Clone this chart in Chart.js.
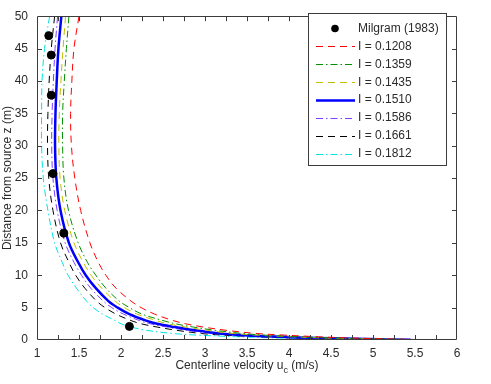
<!DOCTYPE html>
<html lang="en">
<head>
    <meta charset="UTF-8">
    <title>Centerline velocity vs distance from source</title>
    <script src="https://cdn.jsdelivr.net/npm/chart.js"></script>
    <style>
        html, body {
            margin: 0;
            padding: 0;
            background: #fff;
        }
        #wrap {
            width: 491px;
            height: 384px;
        }
    </style>
</head>
<body>
    <div id="wrap"><canvas id="plumeChart"></canvas></div>

    <script>
        // heights above source (m) where each curve was read
        const heights = [50, 45, 40, 35, 30, 25, 20, 15, 12, 10, 8, 6, 5, 4, 3, 2.5, 2, 1.5, 1, 0.75, 0.5, 0.3, 0.15, 0.03];

        // centerline velocity (m/s) for each entrainment coefficient I
        const u1208 = [1.50, 1.44, 1.415, 1.40, 1.41, 1.45, 1.52, 1.63, 1.73, 1.82, 1.94, 2.12, 2.24, 2.40, 2.62, 2.77, 2.98, 3.25, 3.62, 3.95, 4.35, 4.75, 5.25, 5.72];
        const u1359 = [1.38, 1.35, 1.325, 1.305, 1.305, 1.32, 1.375, 1.49, 1.60, 1.70, 1.82, 1.98, 2.10, 2.25, 2.50, 2.65, 2.86, 3.12, 3.45, 3.72, 4.12, 4.55, 5.08, 5.55];
        const u1435 = [1.34, 1.31, 1.285, 1.265, 1.26, 1.275, 1.33, 1.44, 1.55, 1.645, 1.77, 1.93, 2.04, 2.19, 2.42, 2.56, 2.77, 3.02, 3.34, 3.62, 4.03, 4.46, 5.02, 5.50];
        const u1510 = [1.29, 1.255, 1.235, 1.22, 1.215, 1.23, 1.28, 1.38, 1.49, 1.58, 1.70, 1.85, 1.96, 2.10, 2.30, 2.43, 2.64, 2.88, 3.18, 3.45, 3.90, 4.35, 4.95, 5.45];
        const u1586 = [1.245, 1.215, 1.195, 1.18, 1.175, 1.19, 1.24, 1.335, 1.44, 1.53, 1.64, 1.79, 1.89, 2.03, 2.22, 2.35, 2.55, 2.78, 3.08, 3.35, 3.78, 4.22, 4.85, 5.40];
        const u1661 = [1.21, 1.17, 1.145, 1.13, 1.125, 1.14, 1.19, 1.28, 1.38, 1.46, 1.57, 1.71, 1.81, 1.94, 2.12, 2.24, 2.43, 2.66, 2.96, 3.22, 3.65, 4.10, 4.72, 5.35];
        const u1812 = [1.15, 1.09, 1.06, 1.055, 1.055, 1.075, 1.13, 1.21, 1.30, 1.37, 1.47, 1.59, 1.67, 1.78, 1.93, 2.00, 2.12, 2.30, 2.62, 2.92, 3.38, 3.88, 4.50, 5.00];

        // Milgram (1983) measurements
        const milgramU = [1.14, 1.17, 1.17, 1.19, 1.32, 2.10];
        const milgramZ = [47.0, 44.0, 37.8, 25.7, 16.5, 2.1];

        const seriesLabels = ['Milgram (1983)', 'I = 0.1208', 'I = 0.1359', 'I = 0.1435', 'I = 0.1510', 'I = 0.1586', 'I = 0.1661', 'I = 0.1812'];

        const textColor = '#2b2b2b';
        const axisColor = '#3c3c3c';
        const fontFamily = '"Liberation Sans", Arial, Helvetica, sans-serif';

        function curve(label, us, color, width, dash) {
            return {
                label: label,
                data: us.map((u, i) => ({ x: u, y: heights[i] })),
                showLine: true,
                borderColor: color,
                backgroundColor: color,
                borderWidth: width,
                borderDash: dash,
                pointRadius: 0,
                tension: 0.35,
                fill: false
            };
        }

        const dashed = [7, 5];
        const dashDot = [7, 3, 1.5, 3];

        // inward ticks and the closed box round the plot
        const frame = {
            id: 'frame',
            afterDraw(chart) {
                const ctx = chart.ctx;
                const a = chart.chartArea;
                const xs = chart.scales.x, ys = chart.scales.y;
                const len = 5;
                ctx.save();
                ctx.strokeStyle = axisColor;
                ctx.lineWidth = 1;
                ctx.beginPath();
                ctx.rect(Math.round(a.left) + 0.5, Math.round(a.top) + 0.5,
                    Math.round(a.right - a.left) - 1, Math.round(a.bottom - a.top) - 1);
                xs.ticks.forEach(t => {
                    if (t.value <= xs.min || t.value >= xs.max) return;
                    const px = Math.round(xs.getPixelForValue(t.value)) + 0.5;
                    ctx.moveTo(px, a.bottom);
                    ctx.lineTo(px, a.bottom - len);
                    ctx.moveTo(px, a.top);
                    ctx.lineTo(px, a.top + len);
                });
                ys.ticks.forEach(t => {
                    if (t.value <= ys.min || t.value >= ys.max) return;
                    const py = Math.round(ys.getPixelForValue(t.value)) + 0.5;
                    ctx.moveTo(a.left, py);
                    ctx.lineTo(a.left + len, py);
                    ctx.moveTo(a.right, py);
                    ctx.lineTo(a.right - len, py);
                });
                ctx.stroke();

                // x axis title with subscript c
                const cx = (a.left + a.right) / 2;
                const ty = 366;
                ctx.fillStyle = textColor;
                ctx.textBaseline = 'middle';
                ctx.font = '12px ' + fontFamily;
                const p1 = 'Centerline velocity u';
                const p3 = ' (m/s)';
                ctx.font = '12px ' + fontFamily;
                const w1 = ctx.measureText(p1).width;
                const w3 = ctx.measureText(p3).width;
                ctx.font = '9px ' + fontFamily;
                const w2 = ctx.measureText('c').width;
                let x0 = cx - (w1 + w2 + w3) / 2;
                ctx.textAlign = 'left';
                ctx.font = '12px ' + fontFamily;
                ctx.fillText(p1, x0, ty);
                ctx.font = '9px ' + fontFamily;
                ctx.fillText('c', x0 + w1, ty + 5);
                ctx.font = '12px ' + fontFamily;
                ctx.fillText(p3, x0 + w1 + w2, ty);
                ctx.restore();
            }
        };

        // boxed legend in the upper right corner
        const boxLegend = {
            id: 'boxLegend',
            afterDraw(chart) {
                const ctx = chart.ctx;
                const left = 308.5, top = 13.5, right = 446.5, bottom = 165.5;
                ctx.save();
                ctx.fillStyle = '#fff';
                ctx.fillRect(left, top, right - left, bottom - top);
                ctx.strokeStyle = axisColor;
                ctx.lineWidth = 1;
                ctx.setLineDash([]);
                ctx.strokeRect(left, top, right - left, bottom - top);
                chart.data.datasets.forEach((ds, i) => {
                    const y = 28.5 + i * 17.9;
                    if (i === 0) {
                        ctx.fillStyle = '#000';
                        ctx.beginPath();
                        ctx.arc(335, y, 3.8, 0, Math.PI * 2);
                        ctx.fill();
                    } else {
                        ctx.strokeStyle = ds.borderColor;
                        ctx.lineWidth = ds.borderWidth;
                        ctx.setLineDash(ds.borderDash || []);
                        ctx.beginPath();
                        ctx.moveTo(316, Math.round(y) + 0.5);
                        ctx.lineTo(355, Math.round(y) + 0.5);
                        ctx.stroke();
                    }
                    ctx.fillStyle = textColor;
                    ctx.font = '12px ' + fontFamily;
                    ctx.textAlign = 'left';
                    ctx.textBaseline = 'middle';
                    ctx.fillText(seriesLabels[i], 358, y);
                });
                ctx.restore();
            }
        };

        const ctx = document.getElementById('plumeChart').getContext('2d');
        new Chart(ctx, {
            type: 'scatter',
            data: {
                datasets: [
                    {
                        label: seriesLabels[0],
                        data: milgramU.map((u, i) => ({ x: u, y: milgramZ[i] })),
                        backgroundColor: '#000',
                        borderColor: '#000',
                        pointRadius: 4,
                        pointHoverRadius: 4,
                        showLine: false
                    },
                    curve(seriesLabels[1], u1208, '#ff0000', 1, dashed),
                    curve(seriesLabels[2], u1359, '#009000', 1, dashDot),
                    curve(seriesLabels[3], u1435, '#bfbf00', 1, dashed),
                    curve(seriesLabels[4], u1510, '#0000ff', 2.5, []),
                    curve(seriesLabels[5], u1586, '#8040ff', 1, dashDot),
                    curve(seriesLabels[6], u1661, '#000000', 1, dashed),
                    curve(seriesLabels[7], u1812, '#00e5e5', 1, dashDot)
                ]
            },
            options: {
                responsive: true,
                maintainAspectRatio: false,
                animation: false,
                layout: {
                    padding: { left: 0, right: 34, top: 9, bottom: 0 }
                },
                plugins: {
                    legend: { display: false },
                    tooltip: { enabled: false }
                },
                scales: {
                    x: {
                        type: 'linear',
                        min: 1,
                        max: 6,
                        grid: { drawOnChartArea: false, drawTicks: false },
                        border: { display: false },
                        ticks: {
                            stepSize: 0.25,
                            autoSkip: false,
                            maxRotation: 0,
                            padding: 6,
                            color: textColor,
                            font: { family: fontFamily, size: 12 },
                            callback: function(value) {
                                return Math.round(value * 100) % 50 === 0 ? String(value) : '';
                            }
                        },
                        afterFit: function(scale) {
                            scale.height = 44;
                        }
                    },
                    y: {
                        type: 'linear',
                        min: 0,
                        max: 50,
                        grid: { drawOnChartArea: false, drawTicks: false },
                        border: { display: false },
                        ticks: {
                            stepSize: 5,
                            padding: 9,
                            color: textColor,
                            font: { family: fontFamily, size: 12 }
                        },
                        title: {
                            display: true,
                            text: 'Distance from source z (m)',
                            color: textColor,
                            font: { family: fontFamily, size: 12 },
                            padding: { top: 0, bottom: 0 }
                        },
                        afterFit: function(scale) {
                            scale.width = 37;
                        }
                    }
                }
            },
            plugins: [frame, boxLegend]
        });
    </script>
</body>
</html>
